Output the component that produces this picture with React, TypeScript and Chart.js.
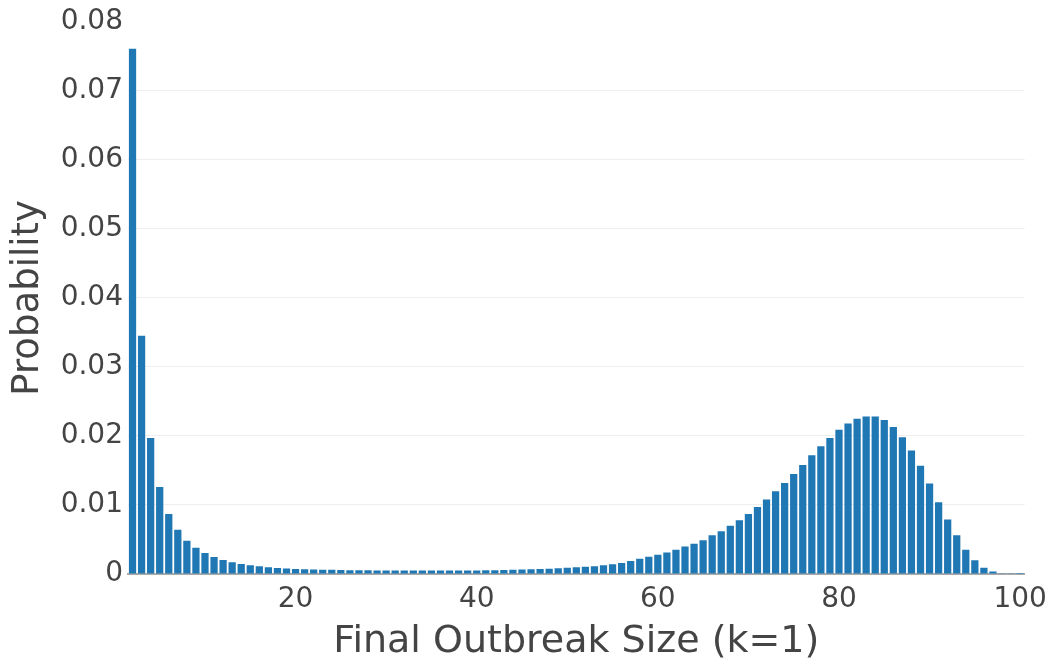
import React, { useEffect, useRef } from 'react';
import { Chart, registerables } from 'chart.js';

Chart.register(...registerables);

const sizes = [
  2, 3, 4, 5, 6, 7, 8, 9, 10, 11, 12, 13, 14, 15, 16, 17, 18, 19, 20,
  21, 22, 23, 24, 25, 26, 27, 28, 29, 30, 31, 32, 33, 34, 35, 36, 37, 38, 39, 40,
  41, 42, 43, 44, 45, 46, 47, 48, 49, 50, 51, 52, 53, 54, 55, 56, 57, 58, 59, 60,
  61, 62, 63, 64, 65, 66, 67, 68, 69, 70, 71, 72, 73, 74, 75, 76, 77, 78, 79, 80,
  81, 82, 83, 84, 85, 86, 87, 88, 89, 90, 91, 92, 93, 94, 95, 96, 97, 98, 99, 100,
];

const probabilities = [
  0.0761, 0.0345, 0.0197, 0.0126, 0.0087, 0.0064, 0.0048, 0.0038, 0.00305,
  0.00247, 0.00204, 0.00169, 0.00146, 0.00126, 0.00111, 0.00097, 0.00088, 0.00078, 0.00074,
  0.0007, 0.00066, 0.00063, 0.0006, 0.00058, 0.00056, 0.00054, 0.00053, 0.00052, 0.00051,
  0.0005, 0.0005, 0.00049, 0.00049, 0.00049, 0.00049, 0.0005, 0.0005, 0.00051, 0.00052,
  0.00054, 0.00056, 0.00058, 0.00061, 0.00064, 0.00068, 0.00072, 0.00077, 0.00083, 0.00089,
  0.00096, 0.00104, 0.00114, 0.00126, 0.0014, 0.0016, 0.0019, 0.0022, 0.0025, 0.0028,
  0.0031, 0.0035, 0.004, 0.0044, 0.0049, 0.0056, 0.0062, 0.007, 0.0078, 0.0087,
  0.0097, 0.0108, 0.012, 0.0132, 0.0145, 0.0158, 0.0172, 0.0185, 0.0197, 0.0209,
  0.0218, 0.0225, 0.0228, 0.0228, 0.0223, 0.0213, 0.0198, 0.0179, 0.0157, 0.0131,
  0.0104, 0.0079, 0.0056, 0.0035, 0.002, 0.0009, 0.00035, 0.0001, 0.00002, 0.000005,
];

const yTicks = [0, 0.01, 0.02, 0.03, 0.04, 0.05, 0.06, 0.07, 0.08];
const xTickLabels = [20, 40, 60, 80, 100];

const FONT = "'DejaVu Sans', Verdana, sans-serif";

export default function App() {
  const ref = useRef<HTMLCanvasElement>(null);

  useEffect(() => {
    if (!ref.current) return;
    const chart = new Chart(ref.current, {
      type: 'bar',
      data: {
        labels: sizes.map(String),
        datasets: [
          {
            data: probabilities,
            backgroundColor: '#1f77b4',
            barPercentage: 1,
            categoryPercentage: 0.8,
          },
        ],
      },
      options: {
        animation: false,
        responsive: false,
        maintainAspectRatio: false,
        layout: { padding: { top: 21, right: 29, left: 0, bottom: 0 } },
        plugins: { legend: { display: false }, tooltip: { enabled: false } },
        scales: {
          x: {
            type: 'category',
            grid: { display: false, drawTicks: false },
            border: { display: true, color: '#aaaaaa', width: 2 },
            ticks: {
              autoSkip: false,
              maxRotation: 0,
              minRotation: 0,
              padding: 9,
              color: '#444444',
              font: { family: FONT, size: 28 },
              callback: (_v: any, index: number) => {
                const s = sizes[index];
                return xTickLabels.includes(s) ? String(s) : '';
              },
            },
            title: {
              display: true,
              text: 'Final Outbreak Size (k=1)',
              color: '#444444',
              font: { family: FONT, size: 38 },
              padding: { top: 0, bottom: 1 },
            },
            afterFit: (s: any) => {
              s.height = 92;
            },
          },
          y: {
            min: 0,
            max: 0.08,
            afterBuildTicks: (s: any) => {
              s.ticks = yTicks.map((v) => ({ value: v }));
            },
            grid: {
              drawTicks: false,
              lineWidth: 1,
              color: (ctx: any) =>
                ctx.tick && (ctx.tick.value === 0 || ctx.tick.value >= 0.08) ? 'rgba(0,0,0,0)' : '#eeeeee',
            },
            border: { display: false },
            ticks: {
              padding: 5,
              color: '#444444',
              font: { family: FONT, size: 28 },
              callback: (v: any) => String(Number(v)),
            },
            title: {
              display: true,
              text: 'Probability',
              color: '#444444',
              font: { family: FONT, size: 37 },
              padding: { top: 6, bottom: 0 },
            },
            afterFit: (s: any) => {
              s.width = 128;
            },
          },
        },
      },
    });
    return () => chart.destroy();
  }, []);

  return (
    <div style={{ position: 'fixed', left: 0, top: 0, width: 1056, height: 666, background: '#fff' }}>
      <canvas ref={ref} width={1056} height={666} style={{ width: 1056, height: 666, display: 'block' }} />
    </div>
  );
}
